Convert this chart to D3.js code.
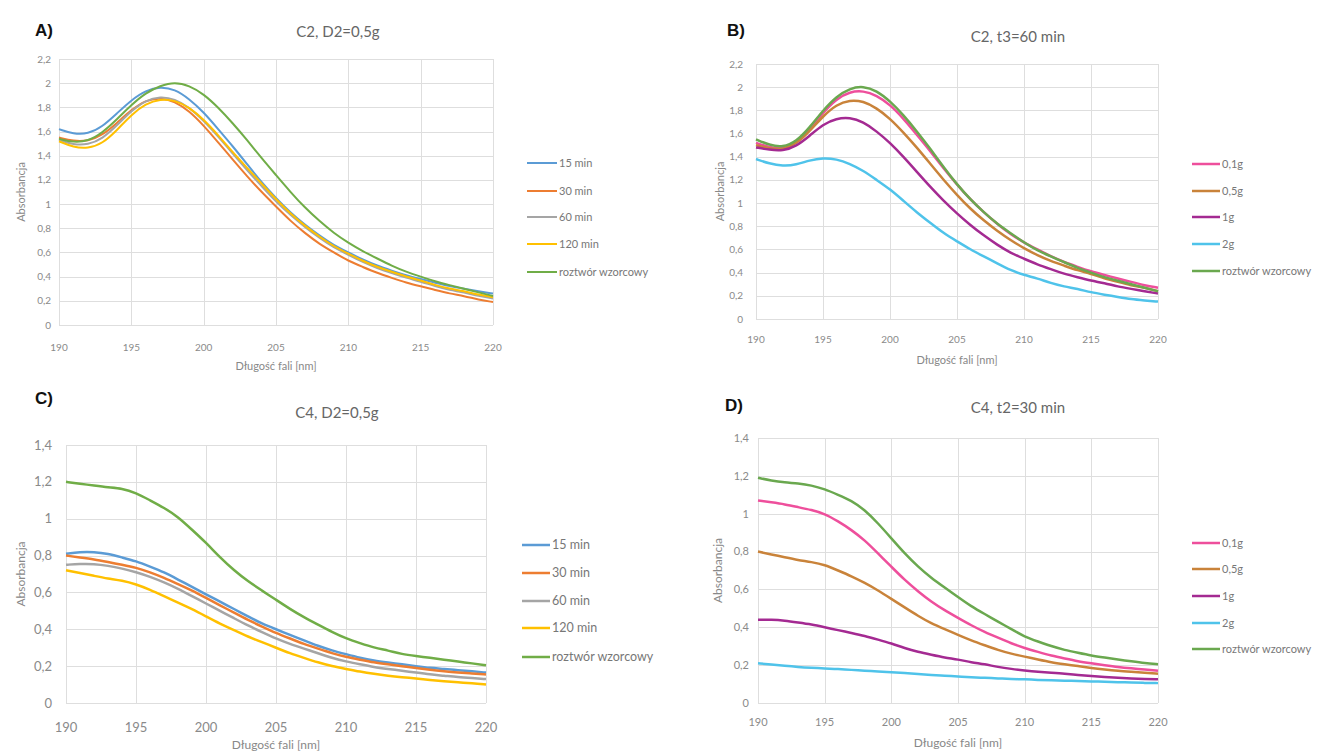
<!DOCTYPE html>
<html>
<head>
<meta charset="utf-8">
<script src="https://cdn.jsdelivr.net/npm/d3@7"></script>
<style>
  body { margin: 0; background: #fff; }
  svg { font-family: Lato, "Open Sans", sans-serif; }
  .grid line { stroke: #dedede; stroke-width: 1; }
  .tick-label { fill: #8a8a8a; }
  .ttl { fill: #666; }
  .axis-title { fill: #888; }
  .legend-text { fill: #777; }
  .panel-letter { font-family: "Liberation Sans", Arial, sans-serif; font-weight: bold; fill: #111; }
</style>
</head>
<body>
<script>
// wavelength grid (nm)
var wavelengths = d3.range(190, 221);

// --- panel A: C2, D2=0,5g ---
var a15 = [1.62,1.58,1.58,1.64,1.75,1.86,1.94,1.97,1.95,1.87,1.76,1.62,1.48,1.33,1.18,1.05,0.93,0.83,0.74,0.66,0.60,0.54,0.49,0.45,0.41,0.38,0.35,0.32,0.30,0.28,0.26];
var a30 = [1.55,1.52,1.52,1.57,1.67,1.78,1.86,1.88,1.85,1.77,1.65,1.51,1.37,1.23,1.10,0.98,0.86,0.76,0.67,0.60,0.53,0.48,0.43,0.39,0.35,0.32,0.29,0.26,0.24,0.21,0.19];
var a60 = [1.53,1.49,1.49,1.54,1.65,1.77,1.86,1.89,1.87,1.80,1.69,1.56,1.42,1.28,1.15,1.02,0.91,0.81,0.72,0.64,0.58,0.52,0.47,0.43,0.39,0.36,0.32,0.29,0.27,0.24,0.22];
var a120 = [1.52,1.47,1.46,1.50,1.61,1.74,1.83,1.87,1.86,1.80,1.70,1.57,1.43,1.30,1.17,1.04,0.92,0.82,0.73,0.65,0.59,0.53,0.48,0.44,0.40,0.37,0.33,0.30,0.28,0.25,0.23];
var aRef = [1.54,1.51,1.52,1.59,1.70,1.82,1.92,1.98,2.01,1.98,1.91,1.80,1.67,1.53,1.38,1.24,1.10,0.97,0.86,0.76,0.68,0.61,0.55,0.49,0.44,0.40,0.36,0.33,0.30,0.27,0.24];

// --- panel B: C2, t3=60 min ---
var b01 = [1.52,1.48,1.47,1.52,1.63,1.78,1.90,1.96,1.97,1.93,1.85,1.73,1.59,1.45,1.30,1.16,1.03,0.92,0.82,0.73,0.66,0.60,0.54,0.49,0.45,0.41,0.38,0.35,0.32,0.29,0.27];
var b05 = [1.50,1.47,1.46,1.51,1.62,1.75,1.85,1.89,1.88,1.82,1.73,1.61,1.48,1.34,1.20,1.07,0.95,0.85,0.76,0.68,0.61,0.55,0.50,0.46,0.42,0.39,0.35,0.32,0.29,0.27,0.24];
var b1 = [1.48,1.46,1.45,1.49,1.58,1.68,1.73,1.74,1.70,1.62,1.52,1.40,1.27,1.14,1.02,0.91,0.81,0.72,0.64,0.57,0.52,0.47,0.43,0.39,0.36,0.33,0.31,0.28,0.26,0.24,0.22];
var b2 = [1.38,1.34,1.32,1.33,1.37,1.39,1.38,1.34,1.28,1.20,1.12,1.02,0.92,0.83,0.74,0.67,0.60,0.54,0.48,0.42,0.38,0.35,0.31,0.28,0.26,0.23,0.21,0.19,0.17,0.16,0.15];
var bRef = [1.55,1.50,1.48,1.53,1.65,1.80,1.92,1.99,2.01,1.97,1.88,1.76,1.62,1.47,1.31,1.16,1.03,0.92,0.82,0.74,0.66,0.59,0.54,0.49,0.44,0.40,0.36,0.33,0.30,0.27,0.24];

// --- panel C: C4, D2=0,5g ---
var c15 = [0.81,0.82,0.82,0.81,0.79,0.77,0.74,0.71,0.67,0.63,0.59,0.55,0.51,0.47,0.43,0.40,0.37,0.34,0.31,0.285,0.265,0.245,0.23,0.22,0.21,0.20,0.19,0.185,0.178,0.172,0.165];
var c30 = [0.80,0.79,0.78,0.765,0.75,0.735,0.71,0.68,0.645,0.61,0.57,0.53,0.49,0.45,0.415,0.38,0.35,0.32,0.295,0.27,0.25,0.235,0.22,0.21,0.20,0.19,0.18,0.172,0.165,0.16,0.155];
var c60 = [0.75,0.755,0.755,0.745,0.73,0.71,0.685,0.655,0.62,0.58,0.54,0.50,0.46,0.42,0.385,0.35,0.32,0.295,0.27,0.245,0.225,0.21,0.195,0.185,0.175,0.165,0.155,0.148,0.14,0.135,0.13];
var c120 = [0.72,0.705,0.69,0.675,0.665,0.645,0.615,0.58,0.545,0.51,0.47,0.43,0.395,0.36,0.33,0.30,0.27,0.245,0.22,0.20,0.185,0.17,0.158,0.148,0.14,0.133,0.125,0.118,0.112,0.107,0.10];
var cRef = [1.20,1.19,1.18,1.17,1.165,1.14,1.10,1.06,1.01,0.94,0.87,0.79,0.72,0.66,0.61,0.56,0.51,0.465,0.425,0.385,0.35,0.325,0.30,0.285,0.265,0.255,0.245,0.235,0.225,0.215,0.205];

// --- panel D: C4, t2=30 min ---
var d01 = [1.07,1.06,1.05,1.035,1.02,1.00,0.96,0.915,0.86,0.79,0.72,0.65,0.59,0.535,0.49,0.45,0.41,0.375,0.345,0.315,0.29,0.27,0.25,0.235,0.22,0.21,0.20,0.19,0.183,0.177,0.17];
var d05 = [0.80,0.785,0.77,0.755,0.745,0.73,0.70,0.67,0.635,0.595,0.55,0.505,0.46,0.42,0.39,0.36,0.33,0.305,0.28,0.26,0.245,0.23,0.215,0.205,0.195,0.185,0.177,0.17,0.165,0.16,0.155];
var d1 = [0.44,0.44,0.435,0.425,0.415,0.40,0.385,0.37,0.355,0.335,0.315,0.29,0.27,0.255,0.24,0.23,0.215,0.205,0.19,0.18,0.172,0.165,0.16,0.155,0.148,0.142,0.137,0.133,0.13,0.127,0.125];
var d2 = [0.21,0.203,0.196,0.19,0.186,0.183,0.179,0.175,0.171,0.167,0.163,0.158,0.153,0.148,0.144,0.14,0.136,0.133,0.13,0.127,0.125,0.122,0.12,0.118,0.116,0.114,0.112,0.11,0.108,0.106,0.105];
var dRef = [1.19,1.175,1.165,1.16,1.15,1.13,1.10,1.07,1.02,0.95,0.87,0.79,0.72,0.66,0.61,0.56,0.51,0.47,0.43,0.39,0.35,0.325,0.30,0.28,0.265,0.25,0.24,0.23,0.22,0.21,0.205];

var timeLabels = ["15 min", "30 min", "60 min", "120 min", "roztwór wzorcowy"];
var massLabels = ["0,1g", "0,5g", "1g", "2g", "roztwór wzorcowy"];
var timeColors = ["#5b9bd5", "#ed7d31", "#a5a5a5", "#ffc000", "#70ad47"];
var massColors = ["#ee4f9c", "#c9833a", "#a42a92", "#4fc3ea", "#6aa84f"];
var xTicks = [190, 195, 200, 205, 210, 215, 220];
var yTicksHigh = d3.range(0, 2.21, 0.2);
var yTicksLow = d3.range(0, 1.41, 0.2);

var W = 1336, H = 755;
var svg = d3.select("body").append("svg")
    .attr("width", W)
    .attr("height", H);

var panels = [
  {letter: "A)", lx: 35, ly: 36, title: "C2, D2=0,5g", tx: 338, ty: 37,
   x0: 59, x1: 493, y0: 325, y1: 59, ymax: 2.2, yticks: yTicksHigh,
   series: [a15, a30, a60, a120, aRef], labels: timeLabels, colors: timeColors,
   tickSize: 10, lw: 2, ylabX: 51, xlabY: 347, xtitleY: 366, ytitleX: 21,
   legX: 527, legLen: 30, legY: [163, 191, 217, 244, 272], legFont: 11, axFont: 11, titleFont: 15},
  {letter: "B)", lx: 727, ly: 36, title: "C2, t3=60 min", tx: 1018, ty: 42,
   x0: 756, x1: 1158, y0: 319, y1: 64, ymax: 2.2, yticks: yTicksHigh,
   series: [b01, b05, b1, b2, bRef], labels: massLabels, colors: massColors,
   tickSize: 10, lw: 2.5, ylabX: 743, xlabY: 339, xtitleY: 360, ytitleX: 720,
   legX: 1192, legLen: 28, legY: [164, 191, 217, 244, 271], legFont: 11, axFont: 11, titleFont: 15},
  {letter: "C)", lx: 35, ly: 404, title: "C4, D2=0,5g", tx: 337, ty: 418,
   x0: 66, x1: 486, y0: 703, y1: 445, ymax: 1.4, yticks: yTicksLow,
   series: [c15, c30, c60, c120, cRef], labels: timeLabels, colors: timeColors,
   tickSize: 13, lw: 2.5, ylabX: 52, xlabY: 727, xtitleY: 745, ytitleX: 21,
   legX: 522, legLen: 28, legY: [545, 573, 601, 628, 657], legFont: 12.5, axFont: 12, titleFont: 15},
  {letter: "D)", lx: 725, ly: 411, title: "C4, t2=30 min", tx: 1018, ty: 413,
   x0: 758, x1: 1158, y0: 703, y1: 438, ymax: 1.4, yticks: yTicksLow,
   series: [d01, d05, d1, d2, dRef], labels: massLabels, colors: massColors,
   tickSize: 11, lw: 2.5, ylabX: 749, xlabY: 722, xtitleY: 743, ytitleX: 718,
   legX: 1192, legLen: 28, legY: [543, 569, 596, 623, 649], legFont: 11, axFont: 12, titleFont: 15}
];

var fmt = function(d) { return String(+d.toFixed(1)).replace(".", ","); };

panels.forEach(function(p) {
  var x = d3.scaleLinear().domain([190, 220]).range([p.x0, p.x1]);
  var y = d3.scaleLinear().domain([0, p.ymax]).range([p.y0, p.y1]);
  var g = svg.append("g");

  // grid
  var grid = g.append("g").attr("class", "grid");
  grid.selectAll("line.h").data(p.yticks).enter().append("line")
      .attr("x1", p.x0).attr("x2", p.x1)
      .attr("y1", function(d) { return Math.round(y(d)) + 0.5; })
      .attr("y2", function(d) { return Math.round(y(d)) + 0.5; });
  grid.selectAll("line.v").data(xTicks).enter().append("line")
      .attr("y1", p.y1).attr("y2", p.y0)
      .attr("x1", function(d) { return Math.round(x(d)) + 0.5; })
      .attr("x2", function(d) { return Math.round(x(d)) + 0.5; });

  // tick labels
  g.selectAll("text.yl").data(p.yticks).enter().append("text")
      .attr("class", "tick-label")
      .attr("x", p.ylabX)
      .attr("y", function(d) { return y(d); })
      .attr("dy", "0.35em")
      .attr("text-anchor", "end")
      .style("font-size", p.tickSize + "px")
      .text(fmt);
  g.selectAll("text.xl").data(xTicks).enter().append("text")
      .attr("class", "tick-label")
      .attr("x", function(d) { return x(d); })
      .attr("y", p.xlabY)
      .attr("dy", "0.35em")
      .attr("text-anchor", "middle")
      .style("font-size", p.tickSize + "px")
      .text(function(d) { return d; });

  // lines
  var line = d3.line()
      .x(function(d, i) { return x(wavelengths[i]); })
      .y(function(d) { return y(d); })
      .curve(d3.curveBasis);
  g.selectAll("path.s").data(p.series).enter().append("path")
      .attr("fill", "none")
      .attr("stroke", function(d, i) { return p.colors[i]; })
      .attr("stroke-width", p.lw)
      .attr("stroke-linejoin", "round")
      .attr("d", line);

  // titles
  g.append("text").attr("class", "panel-letter")
      .attr("x", p.lx).attr("y", p.ly)
      .style("font-size", "17px")
      .text(p.letter);
  g.append("text").attr("class", "ttl")
      .attr("x", p.tx).attr("y", p.ty)
      .attr("text-anchor", "middle")
      .style("font-size", p.titleFont + "px")
      .text(p.title);
  g.append("text").attr("class", "axis-title")
      .attr("x", (p.x0 + p.x1) / 2).attr("y", p.xtitleY)
      .attr("dy", "0.35em")
      .attr("text-anchor", "middle")
      .style("font-size", p.axFont + "px")
      .text("Długość fali [nm]");
  g.append("text").attr("class", "axis-title")
      .attr("transform", "translate(" + p.ytitleX + "," + (p.y0 + p.y1) / 2 + ") rotate(-90)")
      .attr("text-anchor", "middle")
      .attr("dy", "0.35em")
      .style("font-size", p.axFont + "px")
      .text("Absorbancja");

  // legend
  var leg = g.selectAll("g.leg").data(p.labels).enter().append("g")
      .attr("transform", function(d, i) { return "translate(" + p.legX + "," + p.legY[i] + ")"; });
  leg.append("line")
      .attr("x1", 0).attr("x2", p.legLen)
      .attr("stroke", function(d, i) { return p.colors[i]; })
      .attr("stroke-width", p.lw);
  leg.append("text").attr("class", "legend-text")
      .attr("x", p.legLen + 2)
      .attr("dy", "0.35em")
      .style("font-size", p.legFont + "px")
      .text(function(d) { return d; });
});
</script>
</body>
</html>
